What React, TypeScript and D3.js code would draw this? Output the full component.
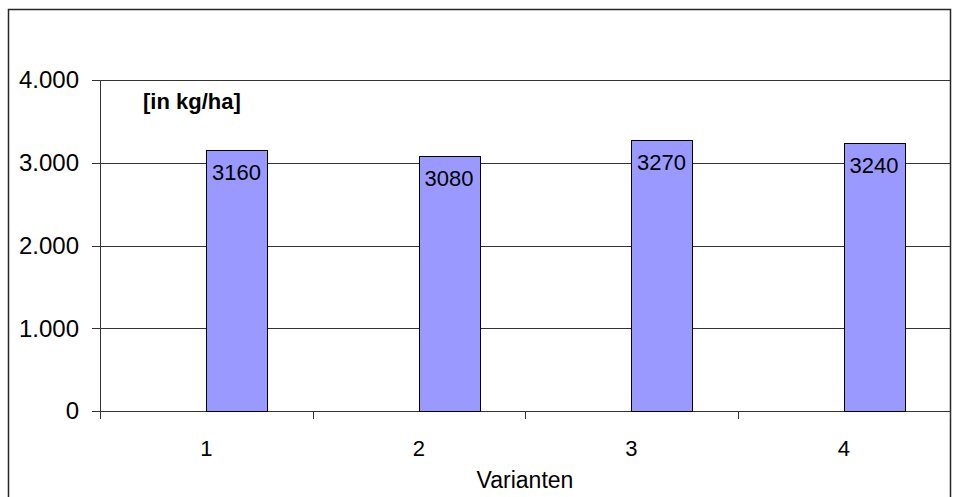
import React from "react";
import * as d3 from "d3";

const categories = ["1", "2", "3", "4"];
const values = [3160, 3080, 3270, 3240];
const yTicks = [0, 1000, 2000, 3000, 4000];
const yTickLabels = ["0", "1.000", "2.000", "3.000", "4.000"];
const xTitle = "Varianten";
const unitLabel = "[in kg/ha]";

const W = 955;
const H = 497;
const plot = { left: 100, right: 950, top: 80, bottom: 411 };
const FONT = "'Liberation Sans', Arial, sans-serif";
const TICK = 8;

export default function App() {
  const x = d3.scaleBand<string>().domain(categories).range([plot.left, plot.right]).padding(0);
  const y = d3.scaleLinear().domain([0, 4000]).range([plot.bottom, plot.top]);
  const bw = x.bandwidth();
  const barW = bw * 0.285;
  const boundaries = d3.range(categories.length + 1).map((i) => plot.left + i * bw);

  return (
    <svg
      width={W}
      height={H}
      style={{ position: "absolute", left: 0, top: 0, background: "#fff" }}
      fontFamily={FONT}
    >
      <rect x={8.5} y={9.5} width={942} height={500} fill="#fff" stroke="#262626" strokeWidth={1.5} />
      {/* gridlines */}
      {yTicks.map((t) => (
        <line key={"g" + t} x1={plot.left - TICK} x2={plot.right} y1={Math.round(y(t)) + 0.5} y2={Math.round(y(t)) + 0.5} stroke="#333" strokeWidth={1} />
      ))}
      {/* y axis */}
      <line x1={plot.left + 0.5} x2={plot.left + 0.5} y1={plot.top} y2={plot.bottom + TICK} stroke="#333" strokeWidth={1} />
      {/* x ticks */}
      {boundaries.map((b, i) => (
        <line key={"xt" + i} x1={Math.round(b) + 0.5} x2={Math.round(b) + 0.5} y1={plot.bottom} y2={plot.bottom + TICK} stroke="#333" strokeWidth={1} />
      ))}
      {/* y labels */}
      {yTicks.map((t, i) => (
        <text key={"yl" + t} x={79} y={y(t)} dy="0.35em" textAnchor="end" fontSize={24} fill="#000">
          {yTickLabels[i]}
        </text>
      ))}
      {/* bars */}
      {categories.map((c, i) => {
        const bx = (x(c) as number) + bw / 2;
        const top = y(values[i]);
        return (
          <g key={"b" + c}>
            <rect x={Math.round(bx) + 0.5} y={Math.round(top) + 0.5} width={Math.round(barW)} height={Math.round(y(0)) - Math.round(top)} fill="#9999FF" stroke="#000" strokeWidth={1} />
            <text x={bx + barW / 2} y={top + 30} textAnchor="middle" fontSize={22} fill="#000">
              {values[i]}
            </text>
          </g>
        );
      })}
      {/* x labels */}
      {categories.map((c) => (
        <text key={"xl" + c} x={(x(c) as number) + bw / 2} y={456} textAnchor="middle" fontSize={22} fill="#000">
          {c}
        </text>
      ))}
      <text x={(plot.left + plot.right) / 2} y={488} textAnchor="middle" fontSize={23} fill="#000">
        {xTitle}
      </text>
      <text x={143} y={109} fontSize={22} fontWeight="bold" fill="#000">
        {unitLabel}
      </text>
    </svg>
  );
}
